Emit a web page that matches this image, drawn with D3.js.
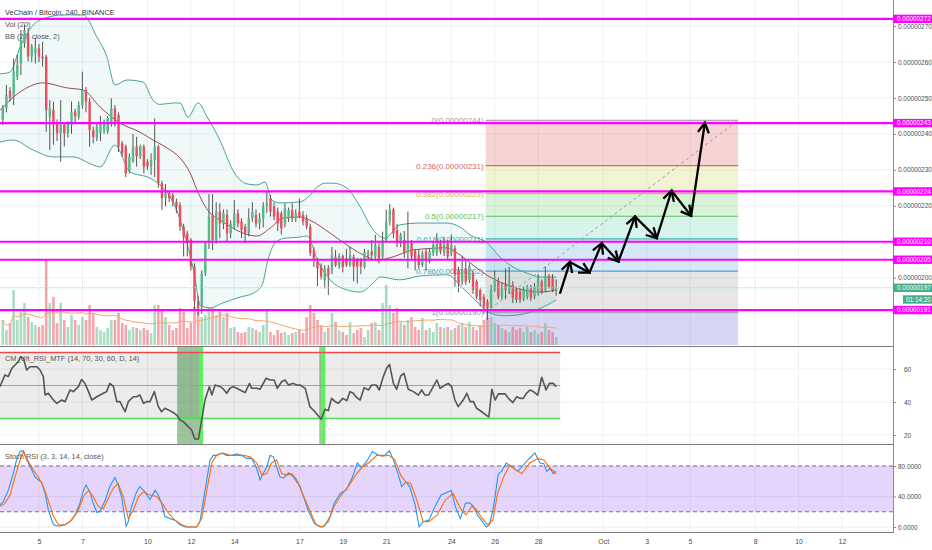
<!DOCTYPE html>
<html>
<head>
<meta charset="utf-8">
<script src="https://cdn.jsdelivr.net/npm/d3@7"></script>
<style>
body { margin: 0; background: #fff; }
svg { display: block; font-family: "Liberation Sans", Arial, sans-serif; }
</style>
</head>
<body>
<div id="chart"></div>
<script>
"use strict";

// ---- data (prices in satoshi, 1e-8 BTC) ----
// 4h bars, first bar 2018-09-03 08:00 UTC
const opens = [243.9,247.1,252,250.4,256,259.6,265.2,268,261.5,262.4,
  263.8,261.5,261.5,244.8,246.7,242.9,240.2,242.5,240.2,242.5,
  246.2,244.8,248,252.2,249,241,238.8,240.2,241,240.6,
  243,247.1,245.3,237.4,236.5,229.5,232.3,236.5,233.7,236.5,
  232.3,230.9,232.8,236.5,226.3,222.1,223.5,223,221.1,220.2,
  214.2,212.3,210.5,203.1,193.5,191.9,201.2,209.6,217.4,210.5,
  218.4,215.1,217.5,212.4,214.2,217.9,215.6,214.2,212.4,216.5,
  217.5,215.1,216.5,219.8,222.1,219.8,218.4,217.9,215.1,216.5,
  218.8,216.5,218.4,217.5,216.5,214.2,207.7,204.5,203.1,199.4,
  202.6,202.2,205.8,203.5,206,205.4,203.5,205.8,205,204.9,
  203.1,206,207.3,205.8,208.6,205.8,210.5,215.6,219,213.3,
  209.6,210.5,206.8,209.6,207.3,206.3,203.5,207.3,204.5,206.8,
  206.8,209.6,206.8,209.6,206.8,208.2,202.2,198.9,202.6,199.4,
  201.2,198.9,196.6,194.7,193.3,192,196.6,199,194.7,198,
  196.1,198,196.6,196.1,194.3,194.7,197,194.7,195.7,198.9,
  196.6,200.3,199.8,196.6];
const highs = [248,253.6,253,261,262,268.9,270.3,269.5,265,266.6,
  265,265.6,262,249.4,249,244,249.4,243,243.5,249,
  247,249,257.3,253,250,242,243,245,244,245,
  249.9,248,246,238,237,234.6,240,239.2,237,237,
  233,234.6,244.3,237,227,226,224,223.5,222,221,
  215,213,211,204,195,202,210,223.3,223.3,221,
  220.7,219,219,216,221.6,219,216.5,215,219.3,221,
  219,218,221,224,223,221,219.5,218.5,220.7,219.5,
  220.7,219,222,218.5,217.5,215,208.5,205.5,204,203.5,
  203.5,208.6,207.7,206.8,206.5,208,208.6,206.5,205.5,205.5,
  208,207.8,210.5,211.9,209.5,212.8,218.9,220.5,219.5,215,
  212.5,213,218.4,210.5,208,208,207.5,208,208,210,
  212.4,210.5,211.4,210.5,212,209,203,206,205,204,
  202,199.5,197,195.5,194,198,202,200,198.5,202.6,
  203,199,197.5,197,197.5,198,198,198.5,201,199.5,
  203.1,201,201,199.5];
const lows = [242.5,246,249,248,255,256.4,264,260.1,260,259.6,
  260,258.7,240.6,235.5,237,238,232.3,236.5,239,240,
  243,244,247,246,236.4,237.4,238,238,240,240,
  242,242,235,233.7,228,229,232,230.9,233,229,
  230,228.6,228,225,218.9,219.8,221,219.8,218,213,
  205.9,205.9,202,191,189.5,190,200.5,208,207.7,209.5,
  211,213.5,210,211,213.5,214,211,209.6,211.5,215.5,
  214,213.5,214,218,217,216,213,212,214,215.5,
  215.5,215.5,216.5,214.5,213.5,206,203,197.6,199.5,197,
  195.2,201,203,202.5,201.5,203,203,199,198.4,201,
  202.5,205,205.5,205,204,205,210,214.5,211,208.5,
  208.5,205.5,202.6,205,202,202.5,203,202,204,206,
  206,206.5,206,205,206,197.5,196,198,198,198.5,
  195.5,194,192,190,188.3,191.5,196,194,194,194,
  195.5,193,193,193,193.5,194,193.5,194,195,195.5,
  196,197,196,195];
const closes = [247.1,250.8,250,257.3,259.2,266.1,268.9,261.5,264.3,263.8,
  261.5,261,246.7,247.1,242.5,240.2,242.5,240.2,243,246.2,
  244.8,248,252.2,249,241,239.2,242,243,243.4,244.4,
  247.1,243.4,236.5,234.6,229,233.7,236.5,233.7,236.5,230.9,
  230.9,232.8,236.5,226.3,222.1,223.5,222.1,221.1,219.8,214.2,
  211.4,209.6,203.1,193.5,191.5,201.2,209.6,217,210.5,218.4,
  215.1,218,212.4,215,217.9,215.1,213.3,212.4,216.5,218.4,
  215.1,216.5,219.8,220.7,218.4,217,215.1,213.7,219.3,218.8,
  216.5,218,217,215.6,214.2,206.8,205,202.6,200.3,202.6,
  200.8,206.3,203.5,206,203,203.5,206.3,203.1,203.1,203.1,
  207.2,207,206.2,209.1,205,210.5,215.6,219,212.3,209.6,
  211.9,206.8,209.6,205.9,204.9,203.5,206.8,204.9,207.3,209.1,
  209.6,207.3,209.6,205.9,209.1,200.8,198.4,202.2,198.9,203.1,
  196.6,194.7,193.8,192,191.5,196.6,199.8,194.7,197.5,196.6,
  198.4,194.3,193.8,193.8,196.6,197.5,194.3,197.5,199.8,196.1,
  200.3,197.5,196.6,197.2];
const volumes = [25,15,22,55,25,33,42,28,23,20,
  18,20,85,42,48,22,42,25,18,30,
  25,20,28,25,40,32,18,15,13,17,
  25,25,32,22,20,15,18,17,15,17,
  15,12,40,40,35,28,20,15,17,37,
  33,17,22,38,33,28,30,38,37,30,
  33,28,32,17,18,13,12,13,18,17,
  15,13,20,35,13,10,15,12,13,10,
  12,13,15,12,28,40,32,25,20,13,
  17,32,23,15,13,10,23,12,15,17,
  8,15,22,23,15,42,60,40,32,37,
  23,20,25,28,18,15,27,15,17,13,
  22,18,17,18,15,17,20,22,18,23,
  18,15,20,25,27,28,22,20,17,15,
  13,18,15,17,13,18,13,15,11,13,
  22,15,13,8];

// Bollinger band readings [bar index, price]
const bbUpper = [[-0.8,256.7],[2,257.2],[4.8,264.2],[8.4,270.3],[11.7,272.2],[16.6,273.1],[22.2,273.1],
  [26,267],[28.8,261.4],[31,253.6],[34.3,255],[38.8,254.4],[41.5,249.4],[43.5,248.2],[47,248.6],
  [49,248.6],[51.2,244.7],[54,248.6],[56.5,244.7],[60,238.3],[63.6,229.9],[65.6,227.2],[67.5,226.1],
  [70.3,225.8],[72.5,226.6],[74.4,221.6],[76.6,220.8],[82.2,221.1],[84.4,222.4],[86.9,225.2],
  [89.1,226.3],[91.3,226.3],[95.2,224.9],[98.8,219.7],[102.4,213.3],[105.7,211],[109.8,214.7],
  [115.4,215.2],[122.8,215.2],[126.4,214.1],[129.2,211.9],[133.9,209.7],[137.5,205.7],[141.1,203],
  [144.9,201.3],[148.5,200.2],[153,200.2]];
const bbMiddle = [[-0.8,246.5],[2,249.4],[5.6,252.2],[11.1,254.2],[17.7,252.8],[22.2,252.2],[26.9,247.5],
  [32.4,243],[37.9,240.5],[41.5,238.3],[45.4,236.1],[49,233.3],[51.8,229.1],[53.7,224.4],[55.4,220.8],
  [57.3,218],[60,216.1],[63.6,213.8],[66.4,212.4],[70.3,211.6],[73.9,213.8],[77.5,216.6],[82.2,216.9],
  [84.9,216],[90.5,212.4],[96,208.5],[100.7,205.8],[103.5,204.9],[107.9,205.8],[113.4,207.7],
  [122.8,208.3],[125.6,206.9],[130,203.5],[134.7,200.2],[139.4,198],[143.8,196.6],[148.5,196],[153,196.6]];
const bbLower = [[-0.8,237.7],[2.8,238.3],[8.4,235.5],[13.9,233.6],[19.4,233.6],[24.9,231.4],[26.9,230.8],
  [31,236.9],[35.2,229.4],[40.7,227.7],[44.3,225],[46.8,221.6],[49,216.1],[51.2,208.5],[53.1,200.2],
  [54.5,192.4],[57.3,191.6],[60.9,193],[65.6,194.6],[69.2,195.7],[71.7,198],[73.3,204.9],[75.3,209.7],
  [78,211],[82.2,211.3],[84.1,211.6],[87.2,204.4],[90.5,199.4],[95.2,196.6],[98.8,196],[102.4,198.5],
  [104.3,200.2],[109.8,199.4],[115.4,200.5],[122.8,200.8],[127.2,197.1],[131.1,193.3],[134.7,190.2],
  [138.3,189.4],[142.2,189.6],[146.6,190.7],[150.5,192.4],[153,193.8]];

// CM_Ult_RSI_MTF line [bar index, value]
const rsi = [[-0.8,49.3],[0.6,56.4],[1.5,55.4],[2.5,60.4],[3.4,62.4],[4.3,64.5],[4.9,67.5],[5.7,66.5],
  [6.6,59.4],[7.5,61.4],[9.4,61.4],[10.3,59.4],[11.2,55.4],[11.7,44.2],[12.6,45.3],[14,41.2],[14.9,39.2],
  [16.3,41.2],[17.2,40.2],[18.6,47.3],[19.5,46.3],[20.9,49.3],[21.8,53.7],[22.7,51.3],[23.7,46.3],
  [24.6,41.2],[26,43.2],[27.8,45.3],[28.7,46.3],[29.6,51.3],[30.6,49.3],[31.5,40.2],[32.4,40.2],
  [33.8,34.1],[34.7,40.2],[36.1,43.2],[37,43.2],[37.9,44.2],[38.9,39.2],[39.8,40.2],[40.7,40.2],
  [41.9,46.3],[43,37.2],[43.9,34.1],[44.8,36.2],[45.8,35.2],[47.2,33.5],[48.1,32.1],[49,29.1],
  [49.9,28.1],[50.8,26.1],[52.2,23],[53.1,17.6],[54.1,17.6],[55,29.1],[55.9,41.2],[57.1,49.3],
  [57.8,44.2],[58.7,50.3],[60.1,49.3],[60.8,48.3],[61.9,45.3],[62.8,48.3],[63.7,49.3],[64.7,48.3],
  [65.6,47.3],[67,45.7],[68.2,51.3],[68.8,48.3],[70.2,48.3],[71.1,47.7],[72.8,54.4],[73.9,53.3],
  [75,53.3],[75.9,48.3],[77.1,52.3],[78,53.3],[79,50.3],[80.3,51.3],[81.3,50.3],[82.2,50.3],
  [83.6,48.3],[84.9,37.2],[86.3,34.1],[88,29.5],[89.1,35.6],[90,34.8],[90.9,42.2],[91.9,40.2],
  [92.8,39.2],[94,42.2],[95.1,40.8],[96,46.3],[96.9,45.3],[97.8,42.8],[98.8,41.2],[99.9,48.7],
  [101.1,47.3],[102,50.3],[103.2,50.3],[104.1,47.3],[105.2,55.4],[106.1,60.4],[106.9,62.8],[108,51.3],
  [108.9,47.7],[110,55.8],[110.9,57.4],[112.1,47.7],[113.5,46.3],[114.9,44.2],[115.8,47.3],[116.7,44.2],
  [117.7,44.2],[119,49.3],[120,53.3],[120.9,48.3],[122.3,50.3],[123.2,51.3],[124.1,49.3],[125,41.2],
  [125.9,37.2],[127.3,41.2],[128.3,45.3],[129.2,40.2],[130.1,40.2],[131,36.2],[132.4,34.1],[134,31.5],
  [134.4,31.1],[135.2,47.7],[136.1,41.2],[137,44.9],[138.9,44.9],[139.8,42.2],[141,39.6],[142.1,43.2],
  [143,42.2],[143.9,42.2],[144.8,45.3],[145.8,47.3],[146.7,46.3],[147.9,44.2],[149,55],[150.2,47.3],
  [151.1,51.3],[152.2,51.3],[153,49.3]];
const oversoldZones = [[48.2, 54.5], [87.5, 88.2]];
const oversoldSignals = [54.9, 88.7];

// Stoch RSI %K and %D [bar index, value]
const stochK = [[-0.8,29],[0.1,33],[1.5,48],[2.9,70],[3.8,88],[4.8,99],[5.7,100],[6.6,88],[8,75],[8.9,66],
  [9.8,62],[10.7,59],[11.7,44],[12.6,22],[14,3],[15.4,1],[17.2,3],[18.6,7],[20,16],[21.3,31],[22.3,48],
  [23,55],[24.1,46],[25,31],[26,19],[26.9,21],[28.3,35],[29.6,53],[31,65],[31.9,55],[32.9,38],[34.1,1],
  [34.7,7],[35.6,27],[37,46],[37.9,53],[39.3,46],[40.7,36],[42.1,48],[43,42],[43.9,31],[44.8,14],
  [46.2,11],[47.6,9],[49,3],[50.4,0],[52.2,0],[53.6,0],[54.5,7],[55.9,48],[57.3,88],[58.2,94],[59.1,94],
  [60.5,97],[61.9,94],[63.3,94],[64.7,96],[66,94],[67.4,90],[68.8,90],[70.2,77],[71.1,62],[72,70],
  [73,79],[73.9,94],[74.8,92],[75.7,79],[76.6,66],[77.6,64],[79,71],[80.3,66],[82.2,53],[84.4,22],
  [86.1,5],[87.7,0],[88.9,1],[90.5,14],[91.6,31],[93.3,44],[95,49],[96.7,66],[98,84],[99.1,78],
  [100.6,86],[102.2,99],[103.9,94],[105.6,94],[106.9,100],[108,88],[109.5,66],[110.3,53],[111.4,59],
  [112.5,53],[114,29],[115.1,0],[116.2,7],[117.8,9],[119.5,27],[121.2,42],[124,48],[125.1,27],
  [126.5,11],[127.9,31],[129,32],[130.1,27],[131.2,16],[132.9,5],[133.7,0],[134.6,3],[135.7,27],
  [137,70],[137.9,73],[139.2,84],[140.7,79],[142.4,73],[143.5,79],[145.2,88],[147.1,97],[148.5,84],
  [149.6,83],[150.4,73],[151.3,77],[152.2,70],[153,73]];
const stochD = [[-0.8,27],[0.6,31],[2,42],[3.4,66],[4.8,88],[5.7,99],[6.6,90],[8.4,75],[9.8,66],
  [11.2,53],[12.6,35],[14,14],[15.4,3],[17.2,3],[19,9],[20.9,22],[22.3,40],[23.7,48],[25,40],[26.4,27],
  [27.8,24],[29.2,38],[30.6,51],[31.9,57],[33.3,40],[34.7,11],[36.1,22],[37.5,40],[38.9,46],[40.7,42],
  [42.5,40],[44.4,29],[45.8,18],[47.6,9],[49.5,3],[51.3,0],[53.6,0],[55,11],[56.4,48],[57.8,84],
  [59.1,94],[61,97],[62.8,94],[64.7,94],[66.5,94],[68.4,92],[70.2,84],[71.6,68],[73,70],[74.3,84],
  [75.7,88],[77.1,70],[78.5,68],[79.9,70],[81.3,62],[82.2,51],[84.4,27],[86.6,3],[88.3,0],[90,7],
  [91.6,27],[93.3,40],[95.5,53],[97.8,70],[99.5,79],[101.1,84],[103.4,94],[105,93],[106.7,94],[108.4,88],
  [110,68],[111.4,59],[112.8,57],[114.5,35],[116.2,7],[117.8,7],[120.1,16],[122.3,35],[124.5,44],
  [126.8,22],[128.1,16],[129.6,27],[130.7,24],[132.3,13],[134,3],[135.5,9],[136.8,44],[138.5,66],
  [140.1,81],[141.8,75],[143.5,70],[145.7,84],[148,90],[149.6,88],[151.3,77],[152.4,73],[153,70]];

// drawings
const magentaLevels = [272, 243, 224, 210, 205, 191];
const fibLevels = [0, 0.236, 0.382, 0.5, 0.618, 0.786, 1, 1.618];
const fibFrom = [133.5, 190.4];   // [bar, price]
const fibTo = [203.3, 243.8];
const arrowPath = [[154.1,195.8],[156.8,204.4],[162.2,201.4],[165.6,209.6],[170.2,204.5],
  [174.8,217],[180.8,211],[184.9,224.2],[190.3,217.2],[194.1,243.1]];

// axes
const priceTicks = [190, 200, 210, 220, 230, 240, 250, 260, 270];
const rsiTicks = [20, 40, 60];
const stochTicks = [0, 40, 80];
const tickDates = ["2018-09-05","2018-09-07","2018-09-10","2018-09-12","2018-09-14","2018-09-17",
  "2018-09-19","2018-09-21","2018-09-24","2018-09-26","2018-09-28","2018-10-01","2018-10-03",
  "2018-10-05","2018-10-08","2018-10-10","2018-10-12"];
const tickLabels = ["5","7","10","12","14","17","19","21","24","26","28","Oct","3","5","8","10","12"];
const countdown = "01:14:20";

// ---- layout ----
const W = 932, H = 550, R = 893;
const mainB = 345, rsiT = 347, rsiB = 443, stoT = 445, stoB = 531, axisY = 532;

const t0 = Date.UTC(2018, 8, 3, 8);
const H4 = 4 * 3600 * 1000;
const barTime = k => new Date(t0 + k * H4);
const x = d3.scaleTime().domain([barTime(0), barTime(153)]).range([2.8, 556.2]);
const xk = k => x(barTime(k));
const barW = 2.4;

const y = d3.scaleLinear().domain([200, 260]).range([277.7, 62]);
const yVol = d3.scaleLinear().domain([0, 100]).range([mainB, mainB - 100]);
const yR = d3.scaleLinear().domain([20, 60]).range([435, 369]);
const yS = d3.scaleLinear().domain([0, 80]).range([527, 466]);
const fmtP = p => (p / 1e8).toFixed(8);

const svg = d3.select("#chart").append("svg").attr("width", W).attr("height", H);
svg.append("rect").attr("width", W).attr("height", H).attr("fill", "#fff");

const defs = svg.append("defs");
[["cMain", 0, 0, R, mainB], ["cRsi", 0, rsiT - 1, R, rsiB - rsiT + 2], ["cSto", 0, stoT - 1, R, stoB - stoT + 2]]
  .forEach(([id, x0, y0, w, h]) => defs.append("clipPath").attr("id", id)
    .append("rect").attr("x", x0).attr("y", y0).attr("width", w).attr("height", h));
defs.append("marker").attr("id", "head")
  .attr("viewBox", "-13 -8 15 16").attr("refX", 0).attr("refY", 0)
  .attr("markerWidth", 15).attr("markerHeight", 16)
  .attr("markerUnits", "userSpaceOnUse").attr("orient", "auto")
  .append("path").attr("d", "M-10,-5.5L0,0L-10,5.5")
  .attr("fill", "none").attr("stroke", "#000").attr("stroke-width", 2.3);

const tDates = tickDates.map(d3.utcParse("%Y-%m-%d"));

// vertical grid across all panes
svg.append("g").selectAll("line").data(tDates).join("line")
  .attr("x1", d => x(d)).attr("x2", d => x(d)).attr("y1", 0).attr("y2", axisY)
  .attr("stroke", "#eef0f4");

// ================= main pane =================
const main = svg.append("g").attr("clip-path", "url(#cMain)");
main.append("g").selectAll("line").data(priceTicks).join("line")
  .attr("x1", 0).attr("x2", R).attr("y1", d => y(d)).attr("y2", d => y(d))
  .attr("stroke", "#eef0f4");

const legend = [["VeChain / Bitcoin, 240, BINANCE", 14.5, "#333"], ["Vol (20)", 26.5, "#555"], ["BB (20, close, 2)", 38.5, "#555"]];
main.append("g").selectAll("text").data(legend).join("text")
  .attr("x", 5).attr("y", d => d[1]).attr("fill", d => d[2]).attr("font-size", 7.4).text(d => d[0]);

// fibonacci retracement
const fibPrice = lv => fibTo[1] - lv * (fibTo[1] - fibFrom[1]);
const fibFill = ["rgba(222,90,90,0.26)", "rgba(205,215,95,0.28)", "rgba(90,205,90,0.24)",
  "rgba(70,205,160,0.22)", "rgba(80,160,225,0.24)", "rgba(130,130,130,0.2)", "rgba(100,100,215,0.26)"];
const fibColor = ["#9a9a9a", "#d86a6a", "#c3c352", "#5cbf5c", "#3fb8a8", "#5b9bd5", "#9a9a9a"];
const fx0 = xk(Math.min(fibFrom[0], fibTo[0])), fx1 = xk(Math.max(fibFrom[0], fibTo[0]));
const fib = main.append("g");
fib.selectAll("rect").data(fibLevels.slice(0, -1)).join("rect")
  .attr("x", fx0).attr("width", fx1 - fx0)
  .attr("y", d => y(fibPrice(d)))
  .attr("height", (d, i) => y(fibPrice(fibLevels[i + 1])) - y(fibPrice(d)))
  .attr("fill", (d, i) => fibFill[i]);
fib.selectAll("line").data(fibLevels.slice(0, -1)).join("line")
  .attr("x1", fx0).attr("x2", fx1)
  .attr("y1", d => y(fibPrice(d))).attr("y2", d => y(fibPrice(d)))
  .attr("stroke", (d, i) => fibColor[i]).attr("stroke-width", 1.2);
fib.selectAll("text").data(fibLevels.slice(0, -1)).join("text")
  .attr("x", fx0 - 2).attr("y", d => y(fibPrice(d)) + 3)
  .attr("text-anchor", "end").attr("font-size", 8).attr("fill", (d, i) => fibColor[i])
  .text(d => `${d}(${fmtP(Math.round(fibPrice(d) * 100) / 100)})`);
fib.append("line")
  .attr("x1", xk(fibFrom[0])).attr("y1", y(fibFrom[1]))
  .attr("x2", xk(fibTo[0])).attr("y2", y(fibTo[1]))
  .attr("stroke", "#999").attr("stroke-dasharray", "3,3");

// Bollinger bands
const bbLine = d3.line().x(d => xk(d[0])).y(d => y(d[1])).curve(d3.curveMonotoneX);
const bandPath = bbLine(bbUpper) + "L" + bbLine(bbLower.slice().reverse()).slice(1) + "Z";
main.append("path").attr("d", bandPath).attr("fill", "rgba(38,166,154,0.07)");
main.append("path").attr("d", bbLine(bbUpper)).attr("fill", "none").attr("stroke", "#45a494").attr("stroke-width", 1);
main.append("path").attr("d", bbLine(bbLower)).attr("fill", "none").attr("stroke", "#45a494").attr("stroke-width", 1);
main.append("path").attr("d", bbLine(bbMiddle)).attr("fill", "none").attr("stroke", "#9c4a55").attr("stroke-width", 1);

// bars
const bars = closes.map((c, i) => ({ k: i, o: opens[i], h: highs[i], l: lows[i], c, v: volumes[i], up: c >= opens[i] }));

// volume + MA(20)
main.append("g").selectAll("rect").data(bars).join("rect")
  .attr("x", d => xk(d.k) - 1.3).attr("width", 2.6)
  .attr("y", d => yVol(d.v)).attr("height", d => mainB - yVol(d.v))
  .attr("fill", d => d.up ? "rgba(83,185,135,0.5)" : "rgba(235,77,92,0.5)");
const volMA = bars.map((d, i) => {
  const w = volumes.slice(Math.max(0, i - 19), i + 1);
  return [i, d3.mean(w)];
});
main.append("path")
  .attr("d", d3.line().x(d => xk(d[0])).y(d => yVol(d[1])).curve(d3.curveMonotoneX)(volMA))
  .attr("fill", "none").attr("stroke", "#f5a66a").attr("stroke-width", 1);

// candles
const cg = main.append("g");
cg.selectAll("line").data(bars).join("line")
  .attr("x1", d => xk(d.k)).attr("x2", d => xk(d.k))
  .attr("y1", d => y(Math.max(d.h, d.o, d.c))).attr("y2", d => y(Math.min(d.l, d.o, d.c)))
  .attr("stroke", "#545454").attr("stroke-width", 1);
cg.selectAll("rect").data(bars).join("rect")
  .attr("x", d => xk(d.k) - barW / 2).attr("width", barW)
  .attr("y", d => y(Math.max(d.o, d.c)))
  .attr("height", d => Math.max(0.8, Math.abs(y(d.o) - y(d.c))))
  .attr("fill", d => d.up ? "#53b987" : "#eb4d5c");

// last price line
const last = closes[closes.length - 1];
main.append("line").attr("x1", 0).attr("x2", R).attr("y1", y(last)).attr("y2", y(last))
  .attr("stroke", "#9fd8bf").attr("stroke-width", 1).attr("stroke-dasharray", "1,1");

// magenta horizontal levels
main.append("g").selectAll("line").data(magentaLevels).join("line")
  .attr("x1", 0).attr("x2", R).attr("y1", d => y(d)).attr("y2", d => y(d))
  .attr("stroke", "#f0f").attr("stroke-width", 2.2);

// projected path arrows
const segs = d3.pairs(arrowPath);
main.append("g").selectAll("line").data(segs).join("line")
  .attr("x1", d => xk(d[0][0])).attr("y1", d => y(d[0][1]))
  .attr("x2", d => xk(d[1][0])).attr("y2", d => y(d[1][1]))
  .attr("stroke", "#000").attr("stroke-width", 2.3).attr("stroke-linecap", "round")
  .attr("marker-end", "url(#head)");

// ================= RSI pane =================
const rp = svg.append("g").attr("clip-path", "url(#cRsi)");
rp.append("g").selectAll("line").data(rsiTicks).join("line")
  .attr("x1", 0).attr("x2", R).attr("y1", d => yR(d)).attr("y2", d => yR(d)).attr("stroke", "#eef0f4");
const rEnd = xk(153) + 4;
rp.append("rect").attr("x", 0).attr("width", rEnd).attr("y", yR(70)).attr("height", yR(30) - yR(70))
  .attr("fill", "rgba(0,0,0,0.075)");
rp.selectAll(".zone").data(oversoldZones).join("rect").attr("class", "zone")
  .attr("x", d => xk(d[0])).attr("width", d => xk(d[1]) - xk(d[0]))
  .attr("y", rsiT - 1).attr("height", rsiB - rsiT + 2).attr("fill", "rgba(40,125,40,0.45)");
rp.selectAll(".sig").data(oversoldSignals).join("rect").attr("class", "sig")
  .attr("x", d => xk(d) - 1.8).attr("width", 3.6)
  .attr("y", rsiT - 1).attr("height", rsiB - rsiT + 2).attr("fill", "#5cf25c");
rp.append("line").attr("x1", 0).attr("x2", rEnd).attr("y1", yR(70)).attr("y2", yR(70))
  .attr("stroke", "#f04848").attr("stroke-width", 1.6);
rp.append("line").attr("x1", 0).attr("x2", rEnd).attr("y1", yR(30)).attr("y2", yR(30))
  .attr("stroke", "#4ee04e").attr("stroke-width", 1.6);
rp.append("line").attr("x1", 0).attr("x2", rEnd).attr("y1", yR(50)).attr("y2", yR(50))
  .attr("stroke", "#a0a0a0").attr("stroke-width", 1);
rp.append("path").attr("d", d3.line().x(d => xk(d[0])).y(d => yR(d[1]))(rsi))
  .attr("fill", "none").attr("stroke", "#555").attr("stroke-width", 1.6).attr("stroke-linejoin", "round");
rp.append("text").attr("x", 5).attr("y", 361).attr("font-size", 7.4).attr("fill", "#555")
  .text("CM_Ult_RSI_MTF (14, 70, 30, 60, D, 14)");

// ================= Stoch RSI pane =================
const sp = svg.append("g").attr("clip-path", "url(#cSto)");
sp.append("g").selectAll("line").data(stochTicks).join("line")
  .attr("x1", 0).attr("x2", R).attr("y1", d => yS(d)).attr("y2", d => yS(d)).attr("stroke", "#eceef2");
sp.append("rect").attr("x", 0).attr("width", R).attr("y", yS(80)).attr("height", yS(20) - yS(80))
  .attr("fill", "rgba(150,80,240,0.24)");
[80, 20].forEach(v => sp.append("line").attr("x1", 0).attr("x2", R).attr("y1", yS(v)).attr("y2", yS(v))
  .attr("stroke", "#7d6d90").attr("stroke-dasharray", "4,3").attr("stroke-width", 1));
const sLine = d3.line().x(d => xk(d[0])).y(d => yS(d[1]));
sp.append("path").attr("d", sLine(stochK)).attr("fill", "none").attr("stroke", "#2196f3").attr("stroke-width", 1.1);
sp.append("path").attr("d", sLine(stochD)).attr("fill", "none").attr("stroke", "#ff6d00").attr("stroke-width", 1.1);
sp.append("text").attr("x", 5).attr("y", 459).attr("font-size", 7.4).attr("fill", "#555")
  .text("Stoch RSI (3, 3, 14, 14, close)");

// ================= separators & axes =================
[346, 444, axisY].forEach(v => svg.append("line").attr("x1", 0).attr("x2", R).attr("y1", v + 0.5).attr("y2", v + 0.5)
  .attr("stroke", "#7a7a7a"));
svg.append("line").attr("x1", R + 0.5).attr("x2", R + 0.5).attr("y1", 0).attr("y2", axisY + 1).attr("stroke", "#8a8a8a");

function styleAxis(g, fs) {
  g.select(".domain").remove();
  g.selectAll("line").attr("stroke", "#8a8a8a");
  g.selectAll("text").attr("font-size", fs).attr("fill", "#4a4a4a").attr("font-family", "Liberation Sans, Arial, sans-serif");
}
// price labels hidden under a level tag are left out, as on the reference scale
const tagPrices = magentaLevels.concat([closes[closes.length - 1]]);
const labelTicks = priceTicks.filter(p => tagPrices.every(q => Math.abs(y(p) - y(q)) > 5));
svg.append("g").attr("transform", `translate(${R},0)`)
  .call(d3.axisRight(y).tickValues(labelTicks).tickFormat(fmtP).tickSize(3).tickPadding(2))
  .call(g => styleAxis(g, 6.4));
svg.append("g").attr("transform", `translate(${R},0)`)
  .call(d3.axisRight(yR).tickValues(rsiTicks).tickSize(3).tickPadding(8))
  .call(g => styleAxis(g, 6.4));
svg.append("g").attr("transform", `translate(${R},0)`)
  .call(d3.axisRight(yS).tickValues(stochTicks).tickFormat(d3.format(".4f")).tickSize(3).tickPadding(2))
  .call(g => styleAxis(g, 6.4));
svg.append("g").attr("transform", `translate(0,${axisY})`)
  .call(d3.axisBottom(x).tickValues(tDates).tickFormat((d, i) => tickLabels[i]).tickSize(0).tickPadding(7))
  .call(g => styleAxis(g, 7));

// price labels on the scale
const tags = magentaLevels.map(p => ({ text: fmtP(p), yc: y(p), x0: R, fill: "#f0f" }));
tags.push({ text: fmtP(Math.round(last)), yc: y(last), x0: R, fill: "#46ad88" });
tags.push({ text: countdown, yc: y(last) + 11.7, x0: 903, fill: "#46ad88" });
const tg = svg.append("g");
tg.selectAll("rect").data(tags).join("rect")
  .attr("x", d => d.x0).attr("y", d => d.yc - 4.2).attr("width", d => W - d.x0).attr("height", 8.4)
  .attr("fill", d => d.fill);
tg.selectAll("text").data(tags).join("text")
  .attr("x", d => d.x0 === R ? R + 4 : d.x0 + 3).attr("y", d => d.yc + 2.3)
  .attr("font-size", 6.4).attr("fill", "#fff").text(d => d.text);
</script>
</body>
</html>
